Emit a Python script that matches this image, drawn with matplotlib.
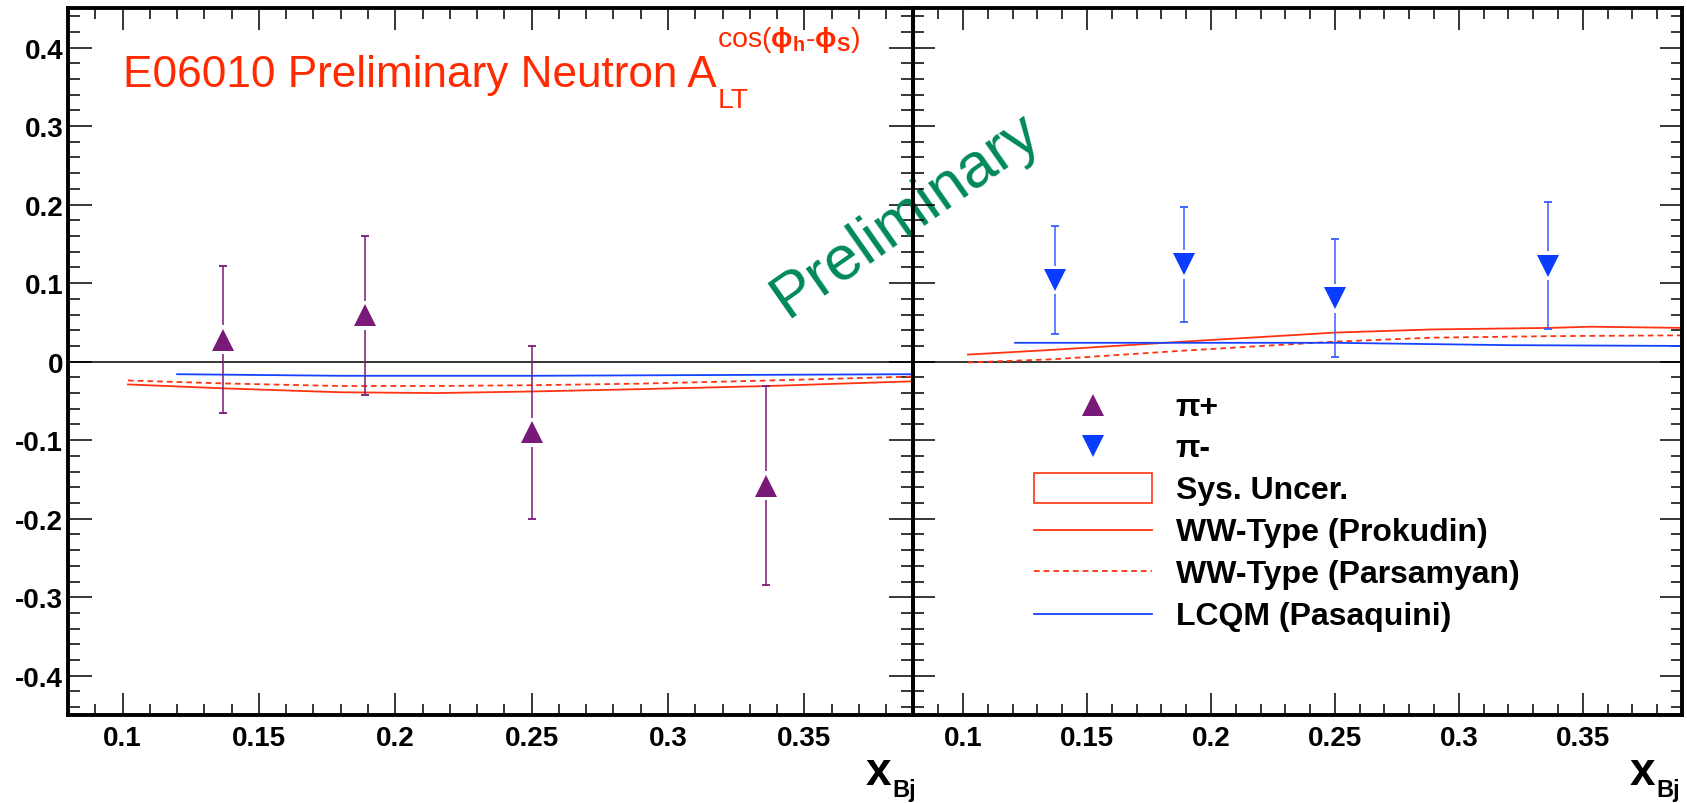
import numpy as np
import matplotlib
matplotlib.use("Agg")
import matplotlib.pyplot as plt
from matplotlib.lines import Line2D
from matplotlib.patches import Rectangle
from matplotlib.ticker import MultipleLocator, FuncFormatter

plt.rcParams['font.family'] = ['Liberation Sans', 'DejaVu Sans']
plt.rcParams['font.weight'] = 'bold'
plt.rcParams['axes.unicode_minus'] = False
plt.rcParams['mathtext.fontset'] = 'custom'
plt.rcParams['mathtext.rm'] = 'Liberation Sans'
plt.rcParams['mathtext.it'] = 'Liberation Sans:italic'
plt.rcParams['mathtext.bf'] = 'Liberation Sans:bold'
plt.rcParams['mathtext.fallback'] = 'stixsans'

# ---- measured asymmetries (x_Bj bins, value, statistical error) ----
x_bins = [0.137, 0.189, 0.250, 0.336]
pip_asym = [0.028, 0.059, -0.090, -0.158]
pip_err = [0.094, 0.101, 0.110, 0.127]
pim_asym = [0.104, 0.124, 0.081, 0.122]
pim_err = [0.069, 0.073, 0.075, 0.081]

# ---- model curves, pi+ ----
prok_pip_x = [0.102, 0.137, 0.180, 0.215, 0.250, 0.290, 0.337, 0.390]
prok_pip_y = [-0.029, -0.034, -0.039, -0.040, -0.038, -0.035, -0.031, -0.025]
pars_pip_x = [0.102, 0.140, 0.180, 0.215, 0.250, 0.290, 0.337, 0.390]
pars_pip_y = [-0.024, -0.028, -0.031, -0.031, -0.030, -0.028, -0.024, -0.019]
lcqm_pip_x = [0.120, 0.180, 0.250, 0.320, 0.390]
lcqm_pip_y = [-0.016, -0.018, -0.018, -0.017, -0.016]

# ---- model curves, pi- ----
prok_pim_x = [0.102, 0.136, 0.189, 0.250, 0.289, 0.337, 0.353, 0.390]
prok_pim_y = [0.009, 0.015, 0.0255, 0.037, 0.041, 0.043, 0.0445, 0.043]
pars_pim_x = [0.102, 0.136, 0.189, 0.250, 0.289, 0.337, 0.390]
pars_pim_y = [-0.001, 0.003, 0.014, 0.0255, 0.0305, 0.0325, 0.0335]
lcqm_pim_x = [0.121, 0.250, 0.320, 0.390]
lcqm_pim_y = [0.024, 0.024, 0.021, 0.020]

x_ticks_step = 0.05
y_ticks_step = 0.1
XMIN, XMAX = 0.08, 0.39
YMIN, YMAX = -0.45, 0.45

legend_labels = ["\u03c0+", "\u03c0-", "Sys. Uncer.", "WW-Type (Prokudin)",
                 "WW-Type (Parsamyan)", "LCQM (Pasaquini)"]

RED = '#ff3311'
TITLE_RED = '#ff2a00'
BLUE_LINE = '#1542ff'
PURPLE = '#7a1a78'
BLUE = '#0a3cff'
BLUE_BAR = '#3a5cff'
GREEN = '#00895a'

W, H = 1687, 804
fig = plt.figure(figsize=(W / 100, H / 100), dpi=100)
renderer = fig.canvas.get_renderer()


def fx(px):
    return px / W


def fy(py):
    return 1 - py / H


top_px, bot_px = 9.3, 716.0
ax_l = fig.add_axes([fx(68), fy(bot_px), fx(913.4) - fx(68), (bot_px - top_px) / H])
ax_r = fig.add_axes([fx(913.4), fy(bot_px), fx(1682) - fx(913.4), (bot_px - top_px) / H])
ax_r.set_facecolor('none')


def fmt(v, _):
    v = round(v, 6)
    if v == 0:
        return "0"
    return "%g" % v


for ax, ylen in ((ax_l, 17.5), (ax_r, 15.5)):
    ax.set_xlim(XMIN, XMAX)
    ax.set_ylim(YMIN, YMAX)
    ax.xaxis.set_major_locator(MultipleLocator(x_ticks_step))
    ax.xaxis.set_minor_locator(MultipleLocator(0.01))
    ax.yaxis.set_major_locator(MultipleLocator(y_ticks_step))
    ax.yaxis.set_minor_locator(MultipleLocator(0.02))
    ax.xaxis.set_major_formatter(FuncFormatter(fmt))
    ax.yaxis.set_major_formatter(FuncFormatter(fmt))
    ax.tick_params(axis='x', which='major', direction='in', length=16, width=1.1,
                   top=True, bottom=True, labelsize=20, pad=7)
    ax.tick_params(axis='x', which='minor', direction='in', length=8, width=1.1,
                   top=True, bottom=True)
    ax.tick_params(axis='y', which='major', direction='in', length=ylen, width=1.1,
                   left=True, right=True, labelsize=20, pad=3.5)
    ax.tick_params(axis='y', which='minor', direction='in', length=ylen / 2, width=1.1,
                   left=True, right=True)
    for sp in ax.spines.values():
        sp.set_linewidth(2.8)
    ax.axhline(0, color='black', lw=1.1, zorder=1.5)

ax_r.tick_params(axis='y', labelleft=False)


def dash(lw):
    return (0, (4.1 / lw, 2.9 / lw))


LW = 1.3


def draw_models(ax, px, py, sx, sy, lx, ly):
    ax.plot(px, py, color=RED, lw=LW, zorder=2)
    ax.plot(sx, sy, color=RED, lw=LW, ls=dash(LW), zorder=2)
    ax.plot(lx, ly, color=BLUE_LINE, lw=LW, zorder=2)


MS = 16.5


def draw_points(ax, x, y, err, color, bar_color, marker):
    x = np.asarray(x)
    y = np.asarray(y)
    e = np.asarray(err)
    px_per_unit = ax.bbox.height / (YMAX - YMIN)
    gap = (MS / 2 * fig.dpi / 72 + 3) / px_per_unit
    ax.vlines(x, y + gap, y + e, color=bar_color, lw=1.1, zorder=3)
    ax.vlines(x, y - e, y - gap, color=bar_color, lw=1.1, zorder=3)
    ax.plot(x, y + e, ls='none', marker='_', ms=5.5, mew=1.3, color=bar_color, zorder=3)
    ax.plot(x, y - e, ls='none', marker='_', ms=5.5, mew=1.3, color=bar_color, zorder=3)
    ax.plot(x, y, ls='none', marker=marker, ms=MS, mfc=color, mec=color, mew=0, zorder=4)


draw_models(ax_l, prok_pip_x, prok_pip_y, pars_pip_x, pars_pip_y, lcqm_pip_x, lcqm_pip_y)
draw_models(ax_r, prok_pim_x, prok_pim_y, pars_pim_x, pars_pim_y, lcqm_pim_x, lcqm_pim_y)
draw_points(ax_l, x_bins, pip_asym, pip_err, PURPLE, PURPLE, '^')
draw_points(ax_r, x_bins, pim_asym, pim_err, BLUE, BLUE_BAR, 'v')

# ---- title with sub/superscripts; main line sized to span 123..717 px ----
title = fig.text(fx(123), fy(87.3), "E06010 Preliminary Neutron A", size=32,
                 color=TITLE_RED, fontweight='normal', ha='left', va='baseline')
bb = title.get_window_extent(renderer)
title.set_fontsize(32 * (717 - 123) / bb.width)
bb = title.get_window_extent(renderer)
x_sub = bb.x1 / W
fig.text(x_sub + 1 / W, fy(108.3), "LT", size=20.5, color=TITLE_RED, fontweight='normal',
         ha='left', va='baseline')
fig.text(x_sub, fy(46.7),
         r"cos($\mathrm{\phi}_{\mathrm{h}}$-$\mathrm{\phi}_{\mathrm{S}}$)", size=20.5,
         color=TITLE_RED, fontweight='normal', ha='left', va='baseline')

# ---- axis titles ----
for x_x in (866, 1630):
    tx = fig.text(fx(x_x), fy(785), "x", size=33, fontweight='bold', ha='left',
                  va='baseline')
    xb = tx.get_window_extent(renderer)
    fig.text(xb.x1 / W + 1 / W, fy(797), "Bj", size=17, fontweight='bold', ha='left',
             va='baseline')

# ---- watermark (drawn by the left axes, so the right frame overlays it) ----
ax_l.text(fx(906), fy(215), "Preliminary", transform=fig.transFigure, size=45,
          color=GREEN, fontweight='normal', rotation=35, rotation_mode='anchor',
          ha='center', va='center', clip_on=False, zorder=5)

# ---- legend ----
centers = [406, 446.7, 489, 531, 572.3, 615]
x0, x1, xm, xt = 1034.3, 1152.3, 1093.3, 1175.7
fig.add_artist(Line2D([fx(xm)], [fy(centers[0])], ls='none', marker='^', ms=MS,
                      mfc=PURPLE, mec=PURPLE, mew=0, transform=fig.transFigure))
fig.add_artist(Line2D([fx(xm)], [fy(centers[1])], ls='none', marker='v', ms=MS,
                      mfc=BLUE, mec=BLUE, mew=0, transform=fig.transFigure))
fig.add_artist(Rectangle((fx(x0), fy(504)), fx(x1) - fx(x0), (504 - 474.3) / H,
                         fill=False, ec=RED, lw=1.2, transform=fig.transFigure))
fig.add_artist(Line2D([fx(x0), fx(x1)], [fy(centers[3])] * 2, color=RED, lw=LW,
                      transform=fig.transFigure))
fig.add_artist(Line2D([fx(x0), fx(x1)], [fy(centers[4])] * 2, color=RED, lw=LW,
                      ls=dash(LW), transform=fig.transFigure))
fig.add_artist(Line2D([fx(x0), fx(x1)], [fy(centers[5])] * 2, color=BLUE_LINE, lw=LW,
                      transform=fig.transFigure))
for lab, c in zip(legend_labels, centers):
    fig.text(fx(xt), fy(c + 10.5), lab, size=23, fontweight='bold', ha='left',
             va='baseline')

fig.savefig("out.png", dpi=100, facecolor='white')
